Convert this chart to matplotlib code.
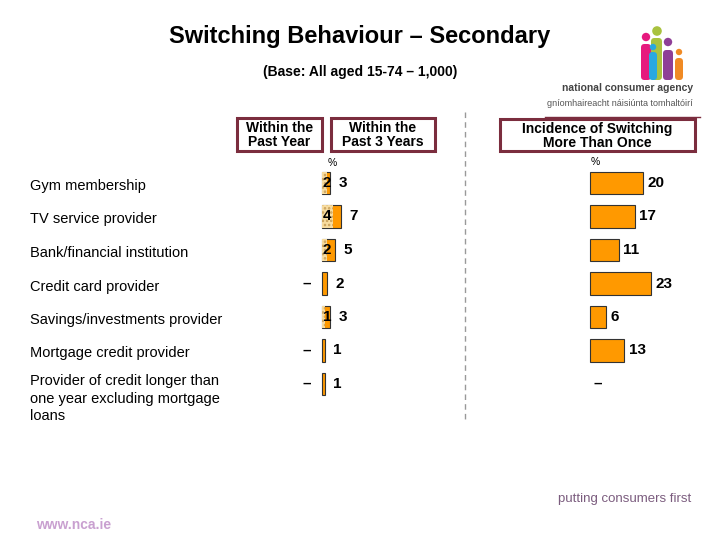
import matplotlib
matplotlib.use("Agg")
import matplotlib.pyplot as plt
from matplotlib.patches import Rectangle, FancyBboxPatch, Circle

plt.rcParams['font.family'] = ['Liberation Sans', 'DejaVu Sans']
plt.rcParams['hatch.linewidth'] = 1.2

# ---------------- data ----------------
categories = [
    "Gym membership",
    "TV service provider",
    "Bank/financial institution",
    "Credit card provider",
    "Savings/investments provider",
    "Mortgage credit provider",
    "Provider of credit longer than\none year excluding mortgage\nloans",
]
past_year = [2, 4, 2, None, 1, None, None]
past_3_years = [3, 7, 5, 2, 3, 1, 1]
more_than_once = [20, 17, 11, 23, 6, 13, None]

W, H = 720, 540
fig = plt.figure(figsize=(7.2, 5.4), dpi=100)

def fx(x):
    return x / W

def fy(y):
    return 1 - y / H

# scale: pixels per percentage point
S = 2.65
row0, step = 183.0, 33.5
top_px, bot_px = row0 - 0.5 * step, row0 + 6.5 * step

def make_axes(x0, x1, base):
    ax = fig.add_axes([fx(x0), fy(bot_px), (x1 - x0) / W, (bot_px - top_px) / H])
    ax.set_xlim((x0 - base) / S, (x1 - base) / S)
    ax.set_ylim(6.5, -0.5)
    ax.axis('off')
    return ax

ORANGE = '#FF9900'
bar_h = 0.66
ypos = list(range(len(categories)))

def present(vals):
    idx = [i for i, v in enumerate(vals) if v is not None]
    return idx, [vals[i] for i in idx]

# ---------- left panel ----------
axL = make_axes(300, 460, 322)
axL.barh(ypos, past_3_years, height=bar_h, color=ORANGE, edgecolor='#333333', linewidth=0.8)
pi, pv = present(past_year)
axL.barh(pi, pv, height=bar_h, color='#F7DCA0', edgecolor='#C9A05A',
         linewidth=0, hatch='....')
for i, (a, b) in enumerate(zip(past_year, past_3_years)):
    if a is None:
        axL.annotate('–', (0, i), xytext=(-8, 0), textcoords='offset points',
                     ha='right', va='center', fontsize=11, fontweight='bold')
    else:
        axL.annotate(str(a), (0, i), xytext=(3.6, 0), textcoords='offset points',
                     ha='center', va='center', fontsize=11, fontweight='bold')
    axL.annotate(str(b), (b, i), xytext=(6, 0), textcoords='offset points',
                 ha='left', va='center', fontsize=11, fontweight='bold')

# ---------- right panel ----------
axR = make_axes(570, 712, 590)
ri, rv = present(more_than_once)
axR.barh(ri, rv, height=bar_h, color=ORANGE, edgecolor='#333333', linewidth=0.8)
for i, v in enumerate(more_than_once):
    if v is None:
        axR.annotate('–', (0, i), xytext=(5.5, 0), textcoords='offset points',
                     ha='center', va='center', fontsize=11, fontweight='bold')
    else:
        axR.annotate(str(v), (v, i), xytext=(3, 0), textcoords='offset points',
                     ha='left', va='center', fontsize=11, fontweight='bold')

# category labels
for i, c in enumerate(categories):
    if '\n' in c:
        fig.text(fx(30), fy(row0 + i * step - 10), c, ha='left', va='top',
                 fontsize=10.5, linespacing=1.32)
    else:
        fig.text(fx(30), fy(row0 + i * step + 3), c, ha='left', va='center', fontsize=10.5)

# ---------- decoration overlay ----------
ov = fig.add_axes([0, 0, 1, 1], zorder=-1)
ov.set_xlim(0, W)
ov.set_ylim(H, 0)
ov.axis('off')

fig.text(0.5, fy(36), "Switching Behaviour – Secondary", ha='center', va='center',
         fontsize=17, fontweight='bold')
fig.text(0.5, fy(72), "(Base: All aged 15-74 – 1,000)", ha='center', va='center',
         fontsize=10, fontweight='bold')

MAROON = '#7B2D3E'
boxes = [
    (237, 118, 322, 151, "Within the\nPast Year"),
    (331, 118, 435, 151, "Within the\nPast 3 Years"),
    (500, 119, 695, 151, "Incidence of Switching\nMore Than Once"),
]
for x0, y0, x1, y1, t in boxes:
    ov.add_patch(Rectangle((x0, y0), x1 - x0, y1 - y0, fill=False,
                           edgecolor=MAROON, linewidth=2.2))
    ov.text((x0 + x1) / 2, (y0 + y1) / 2 + 1, t, ha='center', va='center',
            fontsize=10, fontweight='bold', linespacing=1.0)

ov.text(332, 163, '%', ha='center', va='center', fontsize=7.5)
ov.text(595, 162, '%', ha='center', va='center', fontsize=7.5)

ov.plot([465, 465], [112, 420], color='#999999', linestyle=(0, (4, 3)), linewidth=1)

# logo
figs = [
    (641, 44, 10, 36, 646, 37, 4.2, '#E6197E'),
    (651, 38, 11, 42, 657, 31, 4.8, '#A9C23F'),
    (649, 52, 8, 28, 653, 47, 3.2, '#29A8E0'),
    (663, 50, 10, 30, 668, 42, 4.2, '#8E3F97'),
    (675, 58, 8, 22, 679, 52, 3.2, '#F08A24'),
]
for bx, by, bw, bh, cx, cy, r, col in figs:
    ov.add_patch(FancyBboxPatch((bx, by), bw, bh, boxstyle='round,pad=0,rounding_size=3.5',
                                facecolor=col, edgecolor='none'))
    ov.add_patch(Circle((cx, cy), r, facecolor=col, edgecolor='none'))
ov.text(693, 88, "national consumer agency", ha='right', va='center', fontsize=7.5,
        color='#444444', fontweight='bold')
ov.text(693, 103, "gníomhaireacht náisiúnta tomhaltóirí", ha='right', va='center',
        fontsize=6.5, color='#555555')
ov.plot([545, 700], [117, 117], color=MAROON, linewidth=1)

ov.text(625, 499, "putting consumers first", ha='center', va='center', fontsize=9.5,
        color='#7B5C7E')
ov.text(74, 525, "www.nca.ie", ha='center', va='center', fontsize=10,
        color='#C9A0D0', fontweight='bold')

fig.savefig('out.png', dpi=100)
